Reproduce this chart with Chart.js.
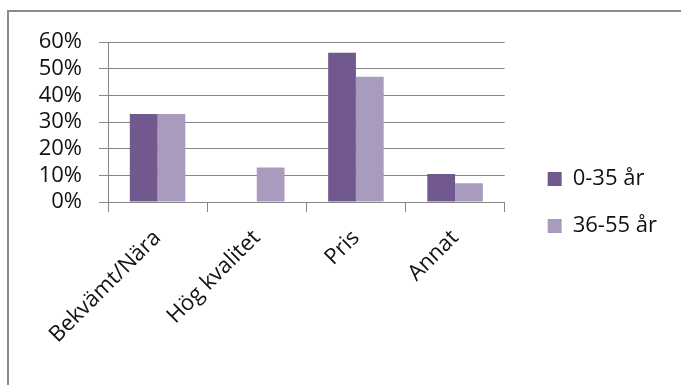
<!DOCTYPE html>
<html>
<head>
<meta charset="utf-8">
<script src="https://cdn.jsdelivr.net/npm/chart.js@4/dist/chart.umd.min.js"></script>
<style>
  html, body { margin: 0; padding: 0; background: #fff; overflow: hidden; }
  #frame {
    position: absolute; left: 7px; top: 10px;
    width: 700px; height: 400px;
    border-left: 2px solid #8a8a8a; border-top: 2px solid #8a8a8a;
  }
  #wrap { position: absolute; left: 0; top: 0; width: 672px; height: 373px; }
</style>
</head>
<body>
<div id="frame"><div id="wrap"><canvas id="myChart"></canvas></div></div>
<script>
// categories and values (percent)
const categories = ["Bekvämt/Nära", "Hög kvalitet", "Pris", "Annat"];
const young = [33, 0, 56, 10.5];
const older = [33, 13, 47, 7];
const seriesNames = ["0-35 år", "36-55 år"];
const yTicks = [0, 10, 20, 30, 40, 50, 60];

const FONT = "'Open Sans', sans-serif";
const GRID = "#878787";

// push the legend a bit away from the plot and up, like the original
const legendShift = {
  id: "legendShift",
  afterLayout(chart) {
    chart.legend.left += 18;
    chart.legend.right += 18;
    chart.legend.top -= 9;
    chart.legend.bottom -= 9;
  },
};

new Chart("myChart", {
  type: "bar",
  data: {
    labels: categories,
    datasets: [
      {
        label: seriesNames[0],
        data: young,
        backgroundColor: "#71588F",
        categoryPercentage: 0.56,
        barPercentage: 1,
      },
      {
        label: seriesNames[1],
        data: older,
        backgroundColor: "#A99BBD",
        categoryPercentage: 0.56,
        barPercentage: 1,
      },
    ],
  },
  plugins: [legendShift],
  options: {
    responsive: true,
    maintainAspectRatio: false,
    animation: false,
    layout: { padding: { top: 26, right: 32, bottom: 0, left: 0 } },
    plugins: {
      tooltip: { enabled: false },
      legend: {
        position: "right",
        labels: {
          font: { family: FONT, size: 22 },
          color: "#111",
          boxWidth: 14,
          boxHeight: 14,
          padding: 25,
        },
      },
    },
    scales: {
      x: {
        grid: {
          offset: true,
          drawOnChartArea: false,
          drawTicks: true,
          tickLength: 10,
          color: GRID,
        },
        border: { color: GRID },
        ticks: {
          font: { family: FONT, size: 22 },
          color: "#111",
          maxRotation: 45,
          minRotation: 45,
          autoSkip: false,
          padding: 13,
        },
        afterFit(scale) {
          scale.height = 183;
        },
      },
      y: {
        min: 0,
        max: 60,
        afterBuildTicks(scale) {
          scale.ticks = yTicks.map((v) => ({ value: v }));
        },
        grid: { color: GRID, tickLength: 9 },
        border: { color: GRID },
        ticks: {
          font: { family: FONT, size: 22 },
          color: "#111",
          padding: 17,
          autoSkip: false,
          callback: (v) => v + "%",
        },
        afterFit(scale) {
          scale.width = 99;
        },
      },
    },
  },
});
</script>
</body>
</html>
